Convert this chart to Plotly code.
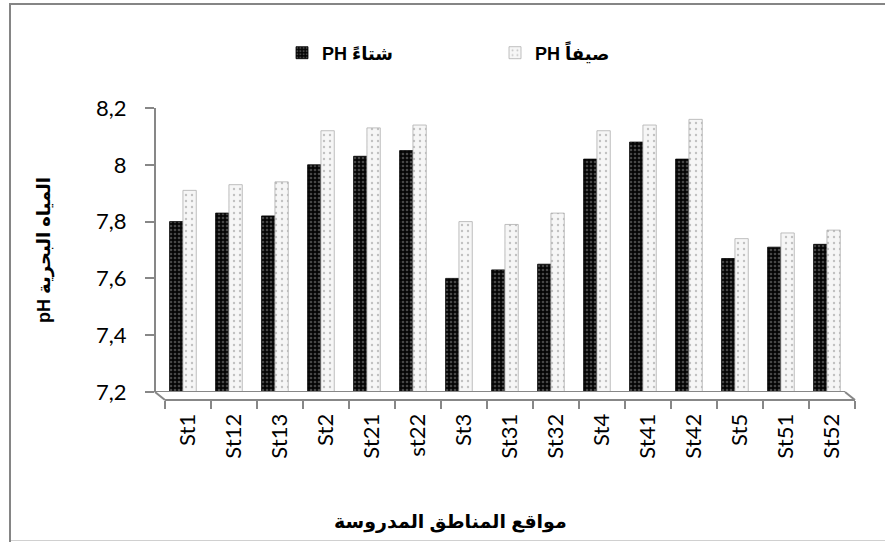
import plotly.graph_objects as go

sites = ["St1", "St12", "St13", "St2", "St21", "st22", "St3", "St31", "St32",
         "St4", "St41", "St42", "St5", "St51", "St52"]
winter = [7.80, 7.83, 7.82, 8.00, 8.03, 8.05, 7.60, 7.63, 7.65,
          8.02, 8.08, 8.02, 7.67, 7.71, 7.72]
summer = [7.91, 7.93, 7.94, 8.12, 8.13, 8.14, 7.80, 7.79, 7.83,
          8.12, 8.14, 8.16, 7.74, 7.76, 7.77]
y_ticks = [7.2, 7.4, 7.6, 7.8, 8.0, 8.2]

winter_name = "PH شتاءً"
summer_name = "PH صيفاً"
x_title = "مواقع المناطق المدروسة"
y_title = "pH المياه البحرية"

W, H = 885, 542
ML, MR, MT, MB = 150, 25, 108, 142
PW, PH = W - ML - MR, H - MT - MB


def px(x):
    return (x - ML) / PW


def py(y):
    return (H - MB - y) / PH


AX = "#878787"
TICK_FONT = dict(family="Lato, Open Sans, sans-serif", size=22, color="#000")
BOLD = "Liberation Sans, DejaVu Sans, sans-serif"

fig = go.Figure()
fig.add_trace(go.Bar(
    x=sites, y=winter, name=winter_name, base=0,
    offset=-0.40, width=0.29,
    marker=dict(color="#0a0a0a", line=dict(color="#000", width=0.8),
                pattern=dict(shape=".", fgcolor="#8a8a8a", bgcolor="#050505",
                             size=4, solidity=0.35)),
))
fig.add_trace(go.Bar(
    x=sites, y=summer, name=summer_name, base=0,
    offset=-0.11, width=0.29,
    marker=dict(color="#f4f4f4", line=dict(color="#b0b0b0", width=0.8),
                pattern=dict(shape=".", fgcolor="#8c8c8c", bgcolor="#f6f6f6",
                             size=6, solidity=0.12)),
))

shapes = [
    # back floor edge
    dict(type="line", xref="paper", yref="y", x0=px(155), x1=px(845),
         y0=7.2, y1=7.2, line=dict(color=AX, width=2)),
    # floor side connectors
    dict(type="line", xref="paper", yref="paper", x0=px(155), x1=px(165),
         y0=py(392), y1=py(400), line=dict(color=AX, width=2)),
    dict(type="line", xref="paper", yref="paper", x0=px(845), x1=px(855),
         y0=py(392), y1=py(400), line=dict(color=AX, width=2)),
    # outer frame (left and top edges visible; right/bottom fall off the page)
    dict(type="rect", xref="paper", yref="paper", x0=px(10), x1=px(900),
         y0=py(560), y1=py(4), line=dict(color="#858585", width=2),
         fillcolor="rgba(0,0,0,0)", layer="below"),
    dict(type="line", xref="paper", yref="paper", x0=px(11), x1=px(886),
         y0=py(540.5), y1=py(540.5), line=dict(color="#d0d0d0", width=1)),
]

fig.update_layout(
    width=W, height=H,
    margin=dict(l=ML, r=MR, t=MT, b=MB),
    paper_bgcolor="white", plot_bgcolor="rgba(0,0,0,0)",
    separators=", ",
    barmode="overlay",
    showlegend=True,
    legend=dict(orientation="h", x=px(282), y=py(53), xanchor="left",
                yanchor="middle", bgcolor="rgba(0,0,0,0)",
                font=dict(family=BOLD, size=18, color="#000", weight="bold"),
                entrywidth=168, entrywidthmode="pixels", itemwidth=30,
                traceorder="normal"),
    xaxis=dict(domain=[px(165), px(855)], anchor="free", position=0,
               showline=True, linecolor=AX, linewidth=2,
               ticks="outside", tickson="boundaries", ticklen=8,
               tickcolor=AX, tickwidth=2, tickangle=-90,
               tickfont=TICK_FONT, showgrid=False, zeroline=False,
               ticklabelstandoff=4,
               range=[-0.5, len(sites) - 0.5]),
    yaxis=dict(domain=[py(392), 1], anchor="free", position=px(155),
               range=[7.2, 8.2], tickvals=y_ticks,
               showline=True, linecolor=AX, linewidth=2,
               ticks="outside", ticklen=9, tickcolor=AX, tickwidth=2,
               tickfont=TICK_FONT, showgrid=False, zeroline=False,
               ticklabelstandoff=14,
               title=dict(text="<b>" + y_title + "</b>", standoff=40,
                          font=dict(family=BOLD, size=18, color="#000"))),
    shapes=shapes,
    annotations=[dict(text="<b>" + x_title + "</b>", xref="paper", yref="paper",
                      x=px(450), y=py(522), xanchor="center", yanchor="middle",
                      showarrow=False,
                      font=dict(family=BOLD, size=19, color="#000"))],
)

fig.write_html("out.html",
               config={"displayModeBar": False},
               post_script="document.body.style.margin='0';"
                           "document.body.style.overflow='hidden';")
